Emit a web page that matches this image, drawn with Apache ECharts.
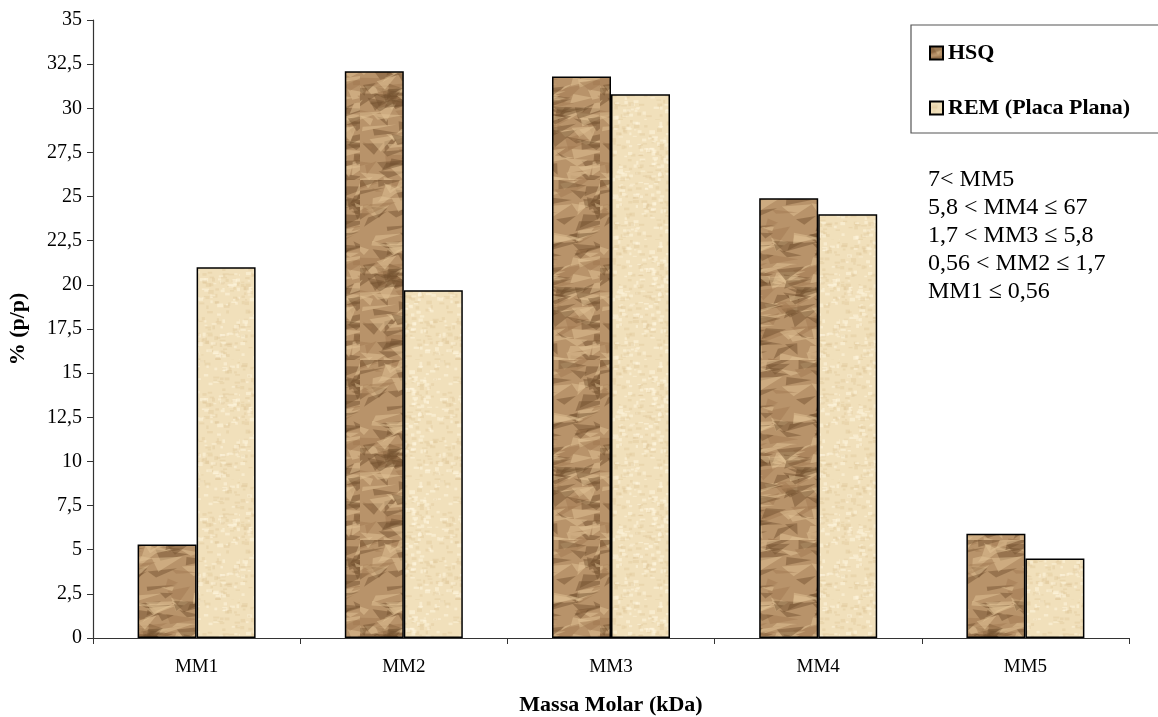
<!DOCTYPE html>
<html>
<head>
<meta charset="utf-8">
<script src="https://cdn.jsdelivr.net/npm/echarts@6/dist/echarts.min.js"></script>
<style>
html,body{margin:0;padding:0;background:#fff;overflow:hidden;}
#chart{width:1158px;height:717px;}
</style>
</head>
<body>
<div id="chart"></div>
<script>
const categories = ['MM1', 'MM2', 'MM3', 'MM4', 'MM5'];
const hsqValues = [5.3, 32.1, 31.8, 24.9, 5.9];
const remValues = [21.0, 19.7, 30.8, 24.0, 4.5];
const seriesNames = ['HSQ', 'REM (Placa Plana)'];
const yTicks = [0, 2.5, 5, 7.5, 10, 12.5, 15, 17.5, 20, 22.5, 25, 27.5, 30, 32.5, 35];
const noteLines = ['7< MM5', '5,8 < MM4 \u2264 67', '1,7 < MM3 \u2264 5,8', '0,56 < MM2 \u2264 1,7', 'MM1 \u2264 0,56'];

function prng(seed){return function(){seed|=0;seed=seed+0x6D2B79F5|0;let t=Math.imul(seed^seed>>>15,1|seed);t=t+Math.imul(t^t>>>7,61|t)^t;return((t^t>>>14)>>>0)/4294967296;};}

function crumpled(){
  const c=document.createElement('canvas');c.width=120;c.height=180;
  const g=c.getContext('2d');const r=prng(7);
  g.fillStyle='#b8936a';g.fillRect(0,0,120,180);
  for(let i=0;i<260;i++){
    const x=r()*140-10,y=r()*200-10;
    const l=r();
    const col=l<0.4?'rgba(110,78,45,0.45)':(l<0.75?'rgba(225,195,150,0.5)':'rgba(160,120,80,0.45)');
    g.fillStyle=col;g.beginPath();
    g.moveTo(x,y);g.lineTo(x+10+r()*25,y+(r()-0.5)*12);g.lineTo(x+(r()-0.3)*18,y+4+r()*10);g.closePath();g.fill();
  }
  return c;
}
function paper(){
  const c=document.createElement('canvas');c.width=120;c.height=120;
  const g=c.getContext('2d');const r=prng(3);
  g.fillStyle='#f1e0bb';g.fillRect(0,0,120,120);
  for(let i=0;i<500;i++){
    const x=r()*120,y=r()*120;
    g.fillStyle=r()<0.5?'rgba(255,248,225,0.5)':'rgba(220,195,150,0.35)';
    g.fillRect(x,y,2+r()*4,1+r()*3);
  }
  return c;
}
const hsqPattern={image:crumpled(),repeat:'repeat'};
const remPattern={image:paper(),repeat:'repeat'};

const chart=echarts.init(document.getElementById('chart'),null,{renderer:'canvas'});
const font='"Liberation Serif", "Times New Roman", serif';
chart.setOption({
  animation:false,
  backgroundColor:'#fff',
  grid:{left:93,right:29,top:20,bottom:79,containLabel:false,outerBoundsMode:'none'},
  legend:{
    orient:'vertical',left:911,top:25,
    padding:[17,40,14,18],itemGap:33,
    itemWidth:13,itemHeight:13,icon:'rect',
    borderColor:'#555',borderWidth:1.2,
    textStyle:{fontFamily:font,fontSize:22,fontWeight:'bold',color:'#000'},
    data:seriesNames
  },
  xAxis:{
    type:'category',data:categories,
    name:'Massa Molar (kDa)',nameLocation:'middle',nameGap:56,
    nameTextStyle:{fontFamily:font,fontSize:22,fontWeight:'bold',color:'#000'},
    axisLine:{lineStyle:{color:'#333',width:1.2}},
    axisTick:{show:true,alignWithLabel:false,length:6,lineStyle:{color:'#333'}},
    axisLabel:{fontFamily:font,fontSize:19,color:'#000',margin:20}
  },
  yAxis:{
    type:'value',min:0,max:35,interval:2.5,
    name:'% (p/p)',nameLocation:'middle',nameGap:64,
    nameTextStyle:{fontFamily:font,fontSize:22,fontWeight:'bold',color:'#000'},
    splitLine:{show:false},
    axisLine:{show:true,lineStyle:{color:'#333',width:1.2}},
    axisTick:{show:true,length:6,lineStyle:{color:'#333'}},
    axisLabel:{fontFamily:font,fontSize:20,color:'#000',margin:11,
      formatter:function(v){return yTicks.indexOf(v)>=0?String(v).replace('.',','):'';}}
  },
  series:[
    {name:seriesNames[0],type:'bar',data:hsqValues,barWidth:59,barGap:'0%',
     itemStyle:{color:hsqPattern,borderColor:'#000',borderWidth:1.5}},
    {name:seriesNames[1],type:'bar',data:remValues,barWidth:59,barGap:'0%',
     itemStyle:{color:remPattern,borderColor:'#000',borderWidth:1.5}}
  ],
  graphic:[{
    type:'text',left:928,top:166,
    style:{text:noteLines.join('\n'),fontFamily:font,fontSize:24,lineHeight:28,fill:'#000'}
  }]
});
</script>
</body>
</html>
